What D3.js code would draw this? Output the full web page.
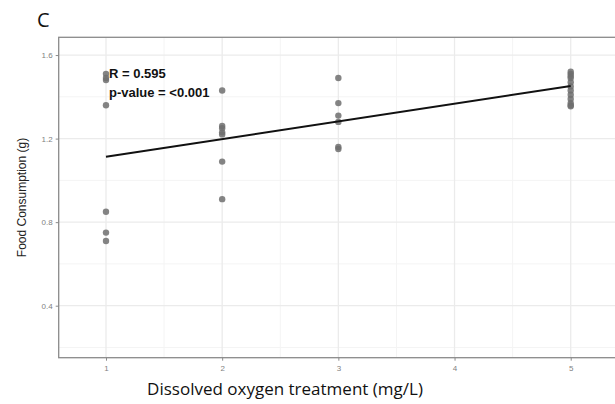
<!DOCTYPE html>
<html>
<head>
<meta charset="utf-8">
<script src="https://cdn.jsdelivr.net/npm/d3@7"></script>
<style>
  body { margin: 0; background: #fff; }
  svg { display: block; }
</style>
</head>
<body>
<div id="chart"></div>
<script>
// dissolved oxygen treatment (mg/L) and food consumption (g) per fish
const doLevels = [1, 1, 1, 1, 1, 1, 1,
                  2, 2, 2, 2, 2, 2, 2,
                  3, 3, 3, 3, 3, 3,
                  5, 5, 5, 5, 5, 5, 5, 5, 5, 5, 5, 5]
const consumption = [1.51, 1.49, 1.48, 1.36, 0.85, 0.75, 0.71,
                     1.43, 1.26, 1.25, 1.23, 1.22, 1.09, 0.91,
                     1.49, 1.37, 1.31, 1.28, 1.16, 1.15,
                     1.52, 1.51, 1.50, 1.49, 1.47, 1.45, 1.43, 1.41, 1.39, 1.37, 1.36, 1.355]
// fitted regression line end points
const fitX = [1, 5]
const fitY = [1.113, 1.452]
const xTicks = [1, 2, 3, 4, 5]
const yTicks = [0.4, 0.8, 1.2, 1.6]
const statLabels = ["R = 0.595", "p-value = <0.001"]

const width = 615, height = 404
const panelL = 58.7, panelT = 37.3, panelB = 357.7, panelR = 618

const svg = d3.select("#chart").append("svg")
    .attr("width", width)
    .attr("height", height)

const x = d3.scaleLinear().domain([0.593, 5.407]).range([panelL, panelR])
const y = d3.scaleLinear().domain([0.151, 1.685]).range([panelB, panelT])

// minor grid
const xMinor = [1.5, 2.5, 3.5, 4.5]
const yMinor = [0.2, 0.6, 1.0, 1.4]
svg.append("g").selectAll("line").data(xMinor).join("line")
    .attr("x1", d => x(d)).attr("x2", d => x(d))
    .attr("y1", panelT).attr("y2", panelB)
    .attr("stroke", "#f4f4f4").attr("stroke-width", 1)
svg.append("g").selectAll("line").data(yMinor).join("line")
    .attr("x1", panelL).attr("x2", panelR)
    .attr("y1", d => y(d)).attr("y2", d => y(d))
    .attr("stroke", "#f4f4f4").attr("stroke-width", 1)

// major grid
svg.append("g").selectAll("line").data(xTicks).join("line")
    .attr("x1", d => x(d)).attr("x2", d => x(d))
    .attr("y1", panelT).attr("y2", panelB)
    .attr("stroke", "#ebebeb").attr("stroke-width", 1.3)
svg.append("g").selectAll("line").data(yTicks).join("line")
    .attr("x1", panelL).attr("x2", panelR)
    .attr("y1", d => y(d)).attr("y2", d => y(d))
    .attr("stroke", "#ebebeb").attr("stroke-width", 1.3)

// points
svg.append("g").selectAll("circle").data(consumption).join("circle")
    .attr("cx", (d, i) => x(doLevels[i]))
    .attr("cy", d => y(d))
    .attr("r", 3.2)
    .attr("fill", "#6e6e6e")
    .attr("fill-opacity", 0.85)

// regression line
svg.append("path")
    .datum(fitX.map((d, i) => [d, fitY[i]]))
    .attr("d", d3.line().x(d => x(d[0])).y(d => y(d[1])))
    .attr("fill", "none")
    .attr("stroke", "#111")
    .attr("stroke-width", 2)

// stats
svg.append("g").selectAll("text").data(statLabels).join("text")
    .attr("x", 109)
    .attr("y", (d, i) => 78 + i * 19)
    .text(d => d)
    .style("font-family", "Liberation Sans, Arial, sans-serif")
    .style("font-weight", "bold")
    .style("font-size", "13px")
    .style("fill", "#111")

// panel border
svg.append("rect")
    .attr("x", panelL).attr("y", panelT)
    .attr("width", panelR - panelL).attr("height", panelB - panelT)
    .attr("fill", "none")
    .attr("stroke", "#8a8a8a")
    .attr("stroke-width", 1.3)

// axes
const xAxis = svg.append("g")
    .attr("transform", "translate(0," + panelB + ")")
    .call(d3.axisBottom(x).tickValues(xTicks).tickSize(3).tickPadding(5).tickFormat(d3.format("d")))
const yAxis = svg.append("g")
    .attr("transform", "translate(" + panelL + ",0)")
    .call(d3.axisLeft(y).tickValues(yTicks).tickSize(3).tickPadding(3).tickFormat(d3.format(".1f")))
for (const ax of [xAxis, yAxis]) {
    ax.select(".domain").remove()
    ax.selectAll(".tick line").attr("stroke", "#8a8a8a")
    ax.selectAll("text")
        .style("font-family", "Liberation Sans, Arial, sans-serif")
        .style("font-size", "8px")
        .style("fill", "#7f7f7f")
}

// axis titles
svg.append("text")
    .attr("transform", "translate(26," + ((panelT + panelB) / 2) + ") rotate(-90)")
    .attr("text-anchor", "middle")
    .text("Food Consumption (g)")
    .style("font-family", "Liberation Sans, Arial, sans-serif")
    .style("font-size", "12px")
    .style("fill", "#222")

svg.append("text")
    .attr("x", 285)
    .attr("y", 395)
    .attr("text-anchor", "middle")
    .text("Dissolved oxygen treatment (mg/L)")
    .style("font-family", "Open Sans, sans-serif")
    .style("font-size", "17px")
    .style("fill", "#111")

svg.append("text")
    .attr("x", 37)
    .attr("y", 27)
    .text("C")
    .style("font-family", "Open Sans, sans-serif")
    .style("font-size", "20px")
    .style("fill", "#111")
</script>
</body>
</html>
